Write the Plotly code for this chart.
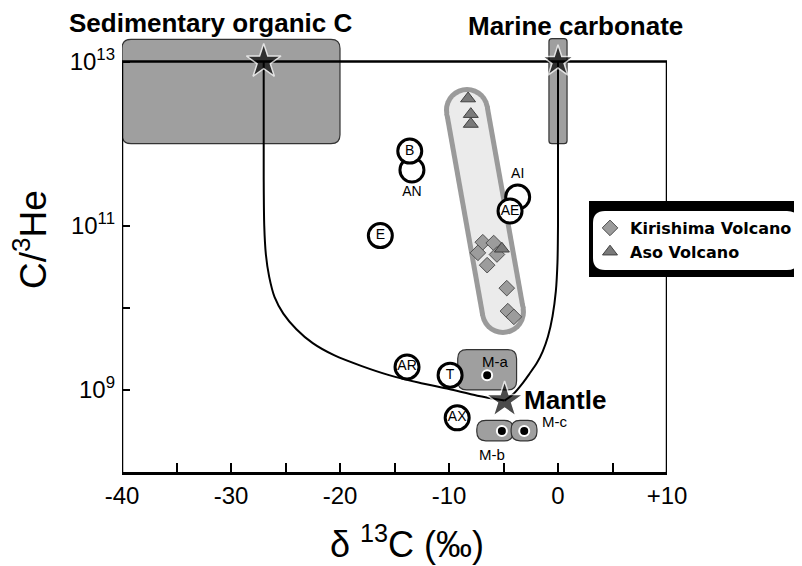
import plotly.graph_objects as go

# ---------------- data ----------------
x_tickvals = [-40, -30, -20, -10, 0, 10]
x_ticktext = ["-40", "-30", "-20", "-10", "0", "+10"]
x_minor_tickvals = [-35, -25, -15, -5, 5]
y_tick_exp = [9, 11, 13]
y_ticktext = ["10<sup>9</sup>", "10<sup>11</sup>", "10<sup>13</sup>"]
y_minor_tick_exp = [8, 10]

# end-members (δ13C, log10 C/3He)
endmember_names = ["Sedimentary organic C", "Marine carbonate", "Mantle"]
endmember_d13c = [-27.0, 0.0, -4.9]
endmember_log = [13.0, 13.0, 8.87]

# end-member ranges (boxes)
sed_box_d13c = [-40.0, -20.0]
sed_box_log = [12.0, 13.27]
carb_box_d13c = [-0.83, 0.83]
carb_box_log = [12.0, 13.28]
ma_box_d13c = [-9.2, -3.8]
ma_box_log = [9.0, 9.49]
mb_box_d13c = [-7.45, -4.1]
mc_box_d13c = [-4.3, -1.93]
mbc_box_log = [8.38, 8.63]

# mantle samples M-a, M-b, M-c
mantle_names = ["M-a", "M-b", "M-c"]
mantle_d13c = [-6.5, -5.15, -3.1]
mantle_log = [9.18, 8.50, 8.50]

# mixing curves to the mantle
mix_sed_d13c = [-27.0, -27.0, -26.95, -26.8, -26.5, -26.0, -25.2, -24.0, -22.5, -20.5, -18.0, -15.5, -12.8, -10.0, -7.4, -4.9]
mix_sed_log = [13.0, 11.6, 11.0, 10.65, 10.38, 10.13, 9.93, 9.74, 9.57, 9.42, 9.29, 9.18, 9.09, 9.01, 8.93, 8.87]
mix_carb_d13c = [0.0, 0.0, -0.05, -0.2, -0.5, -0.92, -1.4, -1.93, -2.6, -3.2, -4.1, -4.9]
mix_carb_log = [13.0, 11.0, 10.55, 10.2, 9.9, 9.65, 9.47, 9.33, 9.2, 9.09, 8.95, 8.87]

# labelled samples
lab_names = ["AN", "B", "AI", "AE", "E", "AR", "T", "AX"]
lab_d13c = [-13.4, -13.6, -3.7, -4.4, -16.3, -13.85, -9.9, -9.25]
lab_log = [11.68, 11.91, 11.35, 11.18, 10.88, 9.28, 9.18, 8.66]
lab_textpos = ["bottom center", "middle center", "top center", "middle center",
               "middle center", "middle center", "middle center", "middle center"]

# Kirishima volcano
kir_d13c = [-6.9, -5.9, -7.35, -5.6, -6.5, -4.7, -4.6, -4.05]
kir_log = [10.80, 10.79, 10.67, 10.65, 10.52, 10.24, 9.96, 9.89]
# Aso volcano
aso_d13c = [-8.25, -8.0, -8.0, -5.15]
aso_log = [12.55, 12.36, 12.24, 10.72]

# trend band (centre-line end points)
band_d13c = [-8.35, -5.05]
band_log = [12.41, 9.95]

# ---------------- layout geometry ----------------
# the page body adds an 8 px margin, so the figure is drawn 8 px smaller
PAGE_OFF = 8
W, H = 802 - PAGE_OFF, 566 - PAGE_OFF
M_L, M_R, M_T, M_B = 122 - PAGE_OFF, 135, 37 - PAGE_OFF, 94
X_RANGE = [-40, 10]
Y_RANGE = [8, 13.3]
PLOT_W = W - M_L - M_R
PLOT_H = H - M_T - M_B
PX_X = PLOT_W / (X_RANGE[1] - X_RANGE[0])
PX_DEC = PLOT_H / (Y_RANGE[1] - Y_RANGE[0])


def px2paper_x(px):  # page pixel -> paper coordinate
    return (px - PAGE_OFF - M_L) / PLOT_W


def px2paper_y(py):
    return (H - M_B - (py - PAGE_OFF)) / PLOT_H


def lin(v):
    return [10 ** e for e in v]


def rounded_path(xr, lr, rad_px):
    x0, x1 = xr
    l0, l1 = lr
    rx = rad_px / PX_X
    ry = rad_px / PX_DEC
    X = lambda x: f"{x:.4f}"
    Y = lambda l: f"{10 ** l:.3f}"
    return (f"M {X(x0+rx)},{Y(l0)} L {X(x1-rx)},{Y(l0)} Q {X(x1)},{Y(l0)} {X(x1)},{Y(l0+ry)} "
            f"L {X(x1)},{Y(l1-ry)} Q {X(x1)},{Y(l1)} {X(x1-rx)},{Y(l1)} "
            f"L {X(x0+rx)},{Y(l1)} Q {X(x0)},{Y(l1)} {X(x0)},{Y(l1-ry)} "
            f"L {X(x0)},{Y(l0+ry)} Q {X(x0)},{Y(l0)} {X(x0+rx)},{Y(l0)} Z")


def rounded_paper_path(x0, x1, y0, y1, rad_px):
    rx = rad_px / PLOT_W
    ry = rad_px / PLOT_H
    F = lambda v: f"{v:.5f}"
    return (f"M {F(x0+rx)},{F(y0)} L {F(x1-rx)},{F(y0)} Q {F(x1)},{F(y0)} {F(x1)},{F(y0+ry)} "
            f"L {F(x1)},{F(y1-ry)} Q {F(x1)},{F(y1)} {F(x1-rx)},{F(y1)} "
            f"L {F(x0+rx)},{F(y1)} Q {F(x0)},{F(y1)} {F(x0)},{F(y1-ry)} "
            f"L {F(x0)},{F(y0+ry)} Q {F(x0)},{F(y0)} {F(x0+rx)},{F(y0)} Z")


FONT = "Liberation Sans, Arial, Helvetica, sans-serif"
BOX_FILL = "#9f9f9f"
BOX_LINE = "#333333"

fig = go.Figure()

# trend band (capsule)
fig.add_trace(go.Scatter(x=band_d13c, y=lin(band_log), mode="lines+markers",
                         line=dict(color="#9a9a9a", width=46),
                         marker=dict(size=46, color="#9a9a9a", line=dict(width=0)),
                         showlegend=False, hoverinfo="skip"))
fig.add_trace(go.Scatter(x=band_d13c, y=lin(band_log), mode="lines+markers",
                         line=dict(color="#ebebeb", width=36),
                         marker=dict(size=36, color="#ebebeb", line=dict(width=0)),
                         showlegend=False, hoverinfo="skip"))

# mixing curves
for xs, ls in [(mix_sed_d13c, mix_sed_log), (mix_carb_d13c, mix_carb_log)]:
    fig.add_trace(go.Scatter(x=xs, y=lin(ls), mode="lines",
                             line=dict(color="black", width=2, shape="spline", smoothing=0.8),
                             showlegend=False, hoverinfo="skip"))

# Kirishima / Aso
fig.add_trace(go.Scatter(x=kir_d13c, y=lin(kir_log), mode="markers",
                         name="<b>Kirishima Volcano</b>",
                         marker=dict(symbol="diamond", size=12, color="#9c9c9c",
                                     line=dict(color="#505050", width=1))))
fig.add_trace(go.Scatter(x=aso_d13c, y=lin(aso_log), mode="markers",
                         name="<b>Aso Volcano</b>",
                         marker=dict(symbol="triangle-up", size=13, color="#7a7a7a",
                                     line=dict(color="#404040", width=1))))

# labelled samples (circles)
fig.add_trace(go.Scatter(x=lab_d13c, y=lin(lab_log), mode="markers+text",
                         text=lab_names, textposition=lab_textpos,
                         textfont=dict(family=FONT, size=14, color="black"),
                         marker=dict(symbol="circle", size=24, color="white",
                                     line=dict(color="black", width=3)),
                         showlegend=False, hoverinfo="skip"))

# mantle sample dots
fig.add_trace(go.Scatter(x=mantle_d13c, y=lin(mantle_log), mode="markers",
                         marker=dict(symbol="circle", size=10, color="black",
                                     line=dict(color="white", width=2)),
                         showlegend=False, hoverinfo="skip"))

# end-member stars
fig.add_trace(go.Scatter(x=endmember_d13c, y=lin(endmember_log), mode="markers",
                         marker=dict(symbol="star", size=[26, 24, 28], color="black",
                                     line=dict(color="white", width=1.5)),
                         showlegend=False, hoverinfo="skip", cliponaxis=False))

# ---------------- shapes ----------------
shapes = []
for xr, lr, r in [(sed_box_d13c, sed_box_log, 9), (carb_box_d13c, carb_box_log, 3),
                  (ma_box_d13c, ma_box_log, 9), (mb_box_d13c, mbc_box_log, 9),
                  (mc_box_d13c, mbc_box_log, 9)]:
    shapes.append(dict(type="path", xref="x", yref="y", path=rounded_path(xr, lr, r),
                       fillcolor=BOX_FILL, line=dict(color=BOX_LINE, width=1.2), layer="below"))
frame = dict(color="black", width=2.5)
shapes += [
    dict(type="line", xref="x", yref="y", x0=X_RANGE[0], x1=X_RANGE[0], y0=10 ** 8, y1=10 ** 13, line=frame, layer="below"),
    dict(type="line", xref="x", yref="y", x0=X_RANGE[1], x1=X_RANGE[1], y0=10 ** 8, y1=10 ** 13, line=frame, layer="below"),
    dict(type="line", xref="x", yref="y", x0=X_RANGE[0], x1=X_RANGE[1], y0=10 ** 13, y1=10 ** 13, line=frame, layer="below"),
]
# legend frame: black box with rounded white panel inside
LG_X0, LG_X1, LG_Y0, LG_Y1 = px2paper_x(589), px2paper_x(806), px2paper_y(277), px2paper_y(201)
shapes.append(dict(type="rect", xref="paper", yref="paper", x0=LG_X0, x1=LG_X1, y0=LG_Y0, y1=LG_Y1,
                   fillcolor="black", line=dict(width=0), layer="above"))
shapes.append(dict(type="path", xref="paper", yref="paper",
                   path=rounded_paper_path(px2paper_x(593), px2paper_x(799), px2paper_y(270), px2paper_y(211), 12),
                   fillcolor="white", line=dict(width=0), layer="above"))

# ---------------- annotations ----------------
annotations = [
    dict(text="<b>Sedimentary organic C</b>", xref="paper", yref="paper", x=px2paper_x(210), y=px2paper_y(23),
         showarrow=False, xanchor="center", yanchor="middle", font=dict(family=FONT, size=26, color="black")),
    dict(text="<b>Marine carbonate</b>", xref="paper", yref="paper", x=px2paper_x(575), y=px2paper_y(26),
         showarrow=False, xanchor="center", yanchor="middle", font=dict(family=FONT, size=26, color="black")),
    dict(text="<b>Mantle</b>", xref="x", yref="y", x=endmember_d13c[2], y=endmember_log[2],
         xshift=17, yshift=1, showarrow=False, xanchor="left", yanchor="middle",
         font=dict(family=FONT, size=26, color="black")),
    dict(text=mantle_names[0], xref="x", yref="y", x=mantle_d13c[0], y=mantle_log[0],
         xshift=8, yshift=14, showarrow=False, xanchor="center", yanchor="middle",
         font=dict(family=FONT, size=15, color="black")),
    dict(text=mantle_names[1], xref="x", yref="y", x=mantle_d13c[1], y=mantle_log[1],
         xshift=-10, yshift=-24, showarrow=False, xanchor="center", yanchor="middle",
         font=dict(family=FONT, size=15, color="black")),
    dict(text=mantle_names[2], xref="x", yref="y", x=mc_box_d13c[1], y=mantle_log[2],
         xshift=3, yshift=9, showarrow=False, xanchor="left", yanchor="middle",
         font=dict(family=FONT, size=15, color="black")),
    dict(text="δ <sup>13</sup>C (‰)", xref="paper", yref="paper", x=px2paper_x(407), y=px2paper_y(542),
         showarrow=False, xanchor="center", yanchor="middle", font=dict(family=FONT, size=36, color="black")),
    dict(text="C/<sup>3</sup>He", xref="paper", yref="paper", x=px2paper_x(30), y=px2paper_y(240), textangle=-90,
         showarrow=False, xanchor="center", yanchor="middle", font=dict(family=FONT, size=37, color="black")),
]

fig.update_layout(
    width=W, height=H,
    margin=dict(l=M_L, r=M_R, t=M_T, b=M_B, pad=0, autoexpand=False),
    paper_bgcolor="white", plot_bgcolor="white",
    shapes=shapes, annotations=annotations,
    showlegend=True,
    legend=dict(x=px2paper_x(590), y=px2paper_y(240), xanchor="left", yanchor="middle",
                bgcolor="rgba(0,0,0,0)", borderwidth=0,
                font=dict(family="DejaVu Sans, Verdana, sans-serif", size=16, color="black"),
                itemwidth=30, tracegroupgap=0),
    xaxis=dict(range=X_RANGE, tickvals=x_tickvals, ticktext=x_ticktext,
               ticks="inside", ticklen=9, tickwidth=2, tickcolor="black",
               minor=dict(tickvals=x_minor_tickvals, ticks="inside", ticklen=9, tickwidth=2, tickcolor="black"),
               showline=True, linecolor="black", linewidth=2.5, mirror=False,
               showgrid=False, zeroline=False,
               tickfont=dict(family=FONT, size=24, color="black")),
    yaxis=dict(type="log", range=Y_RANGE, tickvals=lin(y_tick_exp), ticktext=y_ticktext,
               ticks="inside", ticklen=8, tickwidth=2, tickcolor="black",
               minor=dict(tickvals=lin(y_minor_tick_exp), ticks="inside", ticklen=8, tickwidth=2, tickcolor="black"),
               ticklabelstandoff=6,
               showline=False, showgrid=False, zeroline=False,
               tickfont=dict(family=FONT, size=24, color="black")),
)

fig.write_html("out.html")
